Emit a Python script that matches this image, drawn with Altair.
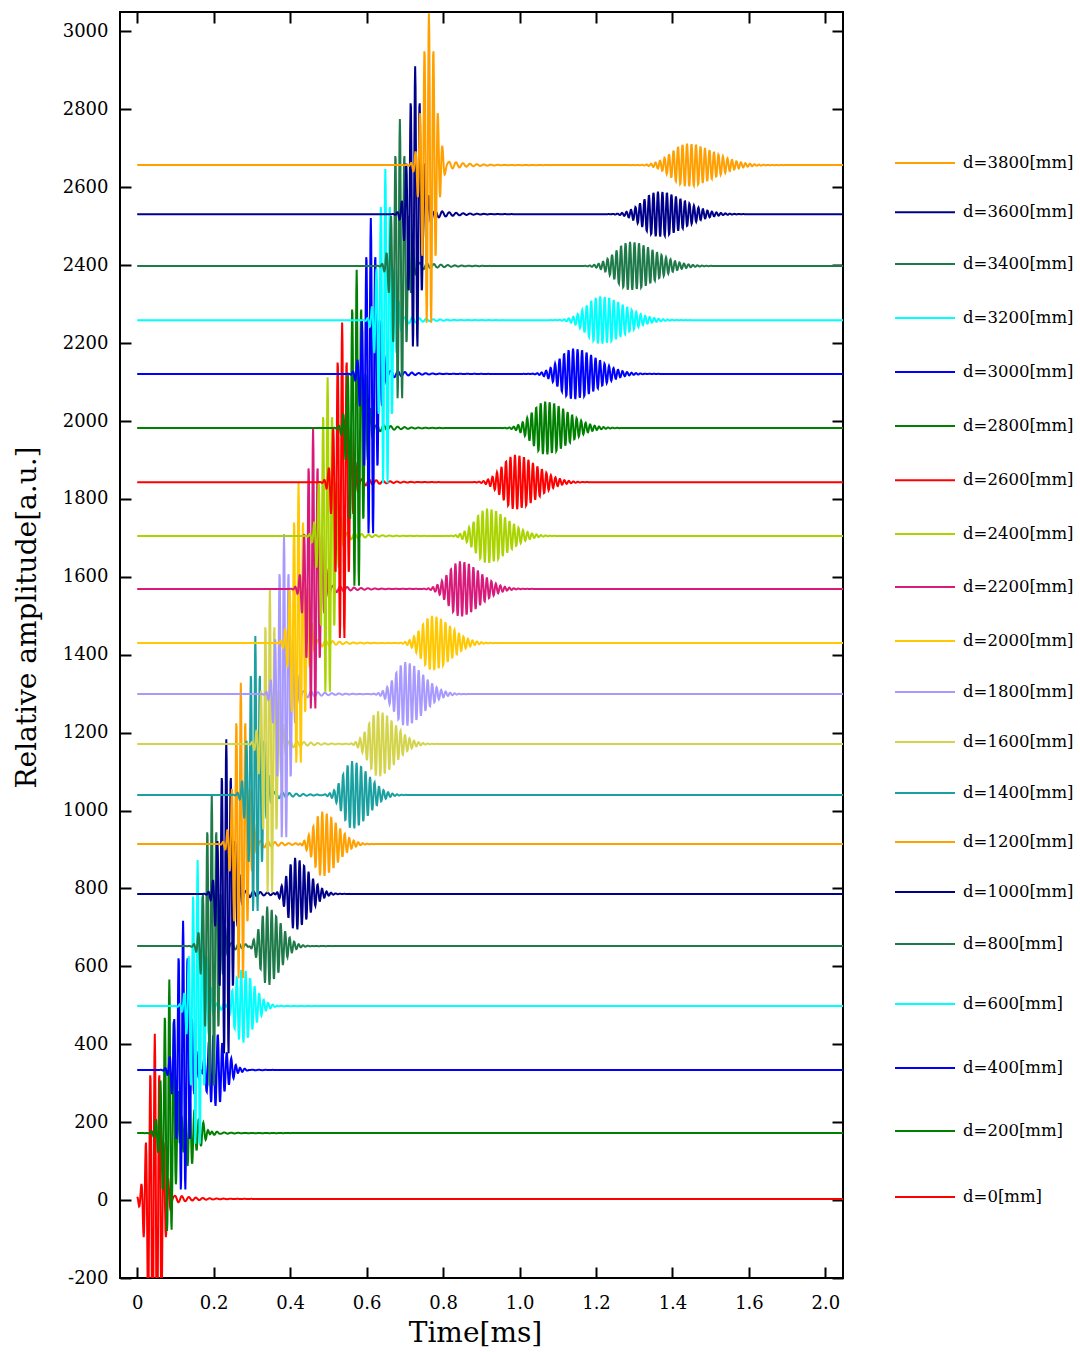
import altair as alt
import numpy as np
import pandas as pd

# Receiver distance for each recorded trace and its legend text
distances = [0, 200, 400, 600, 800, 1000, 1200, 1400, 1600, 1800,
             2000, 2200, 2400, 2600, 2800, 3000, 3200, 3400, 3600, 3800]
labels = [f"d={d}[mm]" for d in distances]
colors = ["#ff0000", "#008000", "#0000ff", "#00ffff", "#1f7a4a",
          "#00008b", "#ffa000", "#1aa0a0", "#d4d44c", "#a899ff",
          "#ffc800", "#d81b7a", "#aad400", "#ff0000", "#008000",
          "#0000ff", "#00ffff", "#1f7a4a", "#00008b", "#ffa000"]

# Vertical offset (stacking level) of each trace
baselines = [3, 172, 334, 498, 652, 786, 914, 1040, 1171, 1299,
             1430, 1569, 1705, 1843, 1982, 2121, 2259, 2398, 2531, 2657]

# Direct (first) arrival: centre time and positive / negative swing
pulse_time = [0.046, 0.084, 0.120, 0.158, 0.195, 0.233, 0.271, 0.309, 0.347, 0.384,
              0.422, 0.460, 0.498, 0.536, 0.574, 0.611, 0.649, 0.687, 0.727, 0.763]
pulse_up = [424, 395, 383, 375, 390, 397, 414, 408, 400, 411,
            413, 413, 407, 410, 406, 400, 388, 377, 380, 390]
pulse_down = [520, 270, 330, 380, 385, 440, 370, 320, 410, 395,
              330, 330, 430, 430, 435, 440, 450, 365, 365, 435]

# Reflected arrival: centre time, amplitude, rise and decay widths
echo_time = [0.000, 0.126, 0.199, 0.272, 0.340, 0.413, 0.484, 0.562, 0.630, 0.701,
             0.771, 0.844, 0.915, 0.988, 1.067, 1.140, 1.211, 1.289, 1.362, 1.438]
echo_amp = [0, 90, 95, 95, 100, 92, 83, 87, 84, 82,
            70, 71, 70, 70, 68, 65, 61, 62, 58, 55]
echo_rise = [0.012, 0.014, 0.015, 0.017, 0.018, 0.020, 0.022, 0.024, 0.025, 0.027,
             0.028, 0.030, 0.031, 0.033, 0.034, 0.035, 0.036, 0.038, 0.039, 0.040]
echo_decay = [0.025, 0.028, 0.030, 0.032, 0.034, 0.036, 0.039, 0.042, 0.044, 0.047,
              0.049, 0.052, 0.054, 0.057, 0.059, 0.062, 0.064, 0.066, 0.068, 0.070]

# Axis ticks and their printed labels
x_ticks = [0, 0.2, 0.4, 0.6, 0.8, 1.0, 1.2, 1.4, 1.6, 1.8]
x_tick_labels = ["0", "0.2", "0.4", "0.6", "0.8", "1.0", "1.2", "1.4", "1.6", "2.0"]
y_ticks = list(range(-200, 3001, 200))

CARRIER = 85.0        # tone-burst frequency, cycles per axis unit
PULSE_WIDTH = 0.016   # envelope width of the direct arrival
RING_FREQ = 55.0      # low-frequency ringing after the direct arrival

t = np.round(np.arange(0.0, 1.8505, 0.001), 4)
frames = []
for i, lab in enumerate(labels):
    p = t - pulse_time[i]
    s1 = np.exp(-0.5 * (p / PULSE_WIDTH) ** 2) * np.cos(2 * np.pi * CARRIER * p)
    s1 = np.where(s1 > 0, s1 * pulse_up[i], s1 * pulse_down[i])
    q = p - 0.03
    ring = np.where(q > 0, 16 * np.exp(-np.clip(q, 0, None) / 0.05) * np.sin(2 * np.pi * RING_FREQ * q), 0.0)
    e = t - echo_time[i]
    w = np.where(e < 0, echo_rise[i], echo_decay[i])
    s2 = echo_amp[i] * np.exp(-0.5 * (e / w) ** 2) * np.cos(2 * np.pi * CARRIER * e)
    v = baselines[i] + s1 + ring + s2
    frames.append(pd.DataFrame({"t": t, "v": np.round(v, 1), "label": lab}))
traces = pd.concat(frames, ignore_index=True)

legend_df = pd.DataFrame({"label": labels, "baseline": baselines})
anchor_df = pd.DataFrame({"t": [0.0], "v": [0.0]})

W, H = 723, 1266
FONT = "DejaVu Serif"
xscale = alt.Scale(domain=[-0.045, 1.846], nice=False, zero=False)
yscale = alt.Scale(domain=[-200, 3050], nice=False, zero=False)
cscale = alt.Scale(domain=labels, range=colors)

label_expr = "[" + ",".join(f"'{s}'" for s in x_tick_labels) + "][round(datum.value / 0.2)]"

lines = alt.Chart(traces).mark_line(strokeWidth=2, clip=True).encode(
    x=alt.X("t:Q", scale=xscale, axis=alt.Axis(
        orient="bottom", values=x_ticks, labelExpr=label_expr, ticks=False, domain=False,
        labelPadding=16, title="Time[ms]", titleX=355, titleY=55,
        titleAlign="center", titleBaseline="middle")),
    y=alt.Y("v:Q", scale=yscale, axis=alt.Axis(
        orient="left", values=y_ticks, labelExpr="'' + datum.value", ticks=False, domain=False,
        labelPadding=12, title="Relative amplitude[a.u.]", titleX=-93, titleY=605,
        titleAlign="center", titleBaseline="middle", titleAngle=270)),
    color=alt.Color("label:N", scale=cscale, legend=None),
)

tick_style = dict(labels=False, domain=False, ticks=True, tickSize=11, tickWidth=2,
                  tickColor="black", title=None)

# inward ticks along the bottom and left edges
ticks_a = alt.Chart(anchor_df).mark_point(opacity=0).encode(
    x=alt.X("t:Q", scale=xscale, axis=alt.Axis(orient="top", offset=-H, values=x_ticks, **tick_style)),
    y=alt.Y("v:Q", scale=yscale, axis=alt.Axis(orient="right", offset=-W, values=y_ticks, **tick_style)),
)
# inward ticks along the top and right edges
ticks_b = alt.Chart(anchor_df).mark_point(opacity=0).encode(
    x=alt.X("t:Q", scale=xscale, axis=alt.Axis(orient="bottom", offset=-H, values=x_ticks, **tick_style)),
    y=alt.Y("v:Q", scale=yscale, axis=alt.Axis(orient="left", offset=-W, values=y_ticks, **tick_style)),
)

legend_lines = alt.Chart(legend_df).mark_rule(strokeWidth=2, yOffset=-2).encode(
    x=alt.value(775), x2=alt.value(835),
    y=alt.Y("baseline:Q", scale=yscale, axis=None),
    color=alt.Color("label:N", scale=cscale, legend=None),
)
legend_text = alt.Chart(legend_df).mark_text(
    align="left", baseline="middle", dy=-2, font=FONT, fontSize=16.5, color="black"
).encode(
    x=alt.value(843),
    y=alt.Y("baseline:Q", scale=yscale, axis=None),
    text="label:N",
)

chart = alt.layer(lines, ticks_a, ticks_b, legend_lines, legend_text).resolve_scale(
    x="shared", y="shared", color="shared"
).resolve_axis(
    x="independent", y="independent"
).properties(
    width=W, height=H, autosize="none",
    padding={"left": 120, "top": 12, "right": 237, "bottom": 74},
    background="white",
).configure_view(
    stroke="black", strokeWidth=2
).configure_axis(
    grid=False, labelFont=FONT, labelFontSize=18, labelColor="black",
    titleFont=FONT, titleFontSize=28, titleColor="black", titleFontWeight="normal",
)

chart.save("out.html", embed_options={"renderer": "svg", "actions": False})
